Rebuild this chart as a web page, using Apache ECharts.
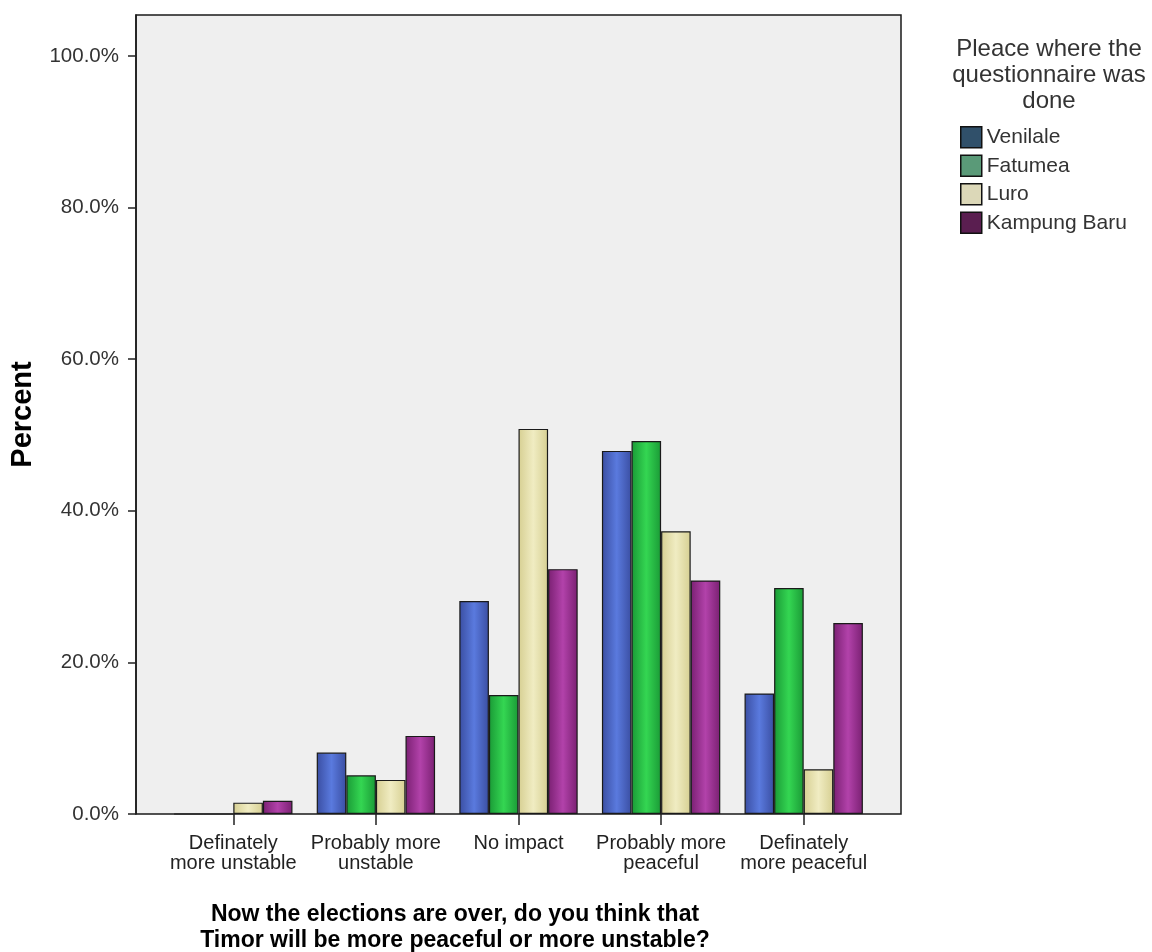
<!DOCTYPE html>
<html>
<head>
<meta charset="utf-8">
<script src="https://cdn.jsdelivr.net/npm/echarts@6/dist/echarts.min.js"></script>
<style>
  html, body { margin: 0; padding: 0; background: #ffffff; }
  #chart { width: 1152px; height: 952px; }
</style>
</head>
<body>
<div id="chart"></div>
<script>
// ---- Data ----
const categories = [
  'Definately\nmore unstable',
  'Probably more\nunstable',
  'No impact',
  'Probably more\npeaceful',
  'Definately\nmore peaceful'
];
const venilale    = [0.0, 8.1, 28.1, 47.9, 15.9];
const fatumea     = [0.0, 5.1, 15.7, 49.2, 29.8];
const luro        = [1.5, 4.5, 50.8, 37.3, 5.9];
const kampungBaru = [1.75, 10.3, 32.3, 30.8, 25.2];
const seriesNames = ['Venilale', 'Fatumea', 'Luro', 'Kampung Baru'];
const yTicks = [0, 20, 40, 60, 80, 100];
const xTitle = 'Now the elections are over, do you think that\nTimor will be more peaceful or more unstable?';
const legendTitle = 'Pleace where the\nquestionnaire was\ndone';

// ---- Styles ----
const barColors = [
  ['#3a4ea2', '#5a7ade', '#3a4ea2'],
  ['#1a9a36', '#34d652', '#1a9a36'],
  ['#d6cf92', '#f0ecc2', '#d6cf92'],
  ['#7a2072', '#b242aa', '#7a2072']
];
const legendColors = ['#30506a', '#5a9a78', '#dcd8b8', '#5a1e50'];
const FONT = '"Liberation Sans", Arial, sans-serif';

function grad(c) {
  return new echarts.graphic.LinearGradient(0, 0, 1, 0, [
    { offset: 0, color: c[0] },
    { offset: 0.5, color: c[1] },
    { offset: 1, color: c[2] }
  ]);
}

const allData = [venilale, fatumea, luro, kampungBaru];

const chart = echarts.init(document.getElementById('chart'), null, { renderer: 'canvas' });

const option = {
  backgroundColor: '#ffffff',
  animation: false,
  textStyle: { fontFamily: FONT },
  title: [
    {
      text: xTitle,
      left: 450, top: 897, textAlign: 'center',
      textStyle: { fontFamily: FONT, fontSize: 23, fontWeight: 'bold', color: '#000', lineHeight: 26 }
    },
    {
      text: legendTitle,
      left: 1044, top: 31, textAlign: 'center',
      textStyle: { fontFamily: FONT, fontSize: 24, fontWeight: 'normal', color: '#333', lineHeight: 26, align: 'center' }
    }
  ],
  legend: {
    orient: 'vertical',
    left: 955, top: 121,
    itemWidth: 21, itemHeight: 21, itemGap: 6,
    icon: 'rect',
    textStyle: { fontFamily: FONT, fontSize: 21, color: '#333' },
    data: seriesNames.map((n, i) => ({
      name: n,
      itemStyle: { color: legendColors[i], borderColor: '#111', borderWidth: 1.5 }
    }))
  },
  grid: [
    { left: 136, right: 251, top: 15, bottom: 138, show: true, backgroundColor: '#efefef', borderColor: '#1a1a1a', borderWidth: 1.5 },
    { left: 162, right: 277, top: 15, bottom: 138, show: false }
  ],
  xAxis: [
    { gridIndex: 0, type: 'category', data: categories, show: false },
    {
      gridIndex: 1, type: 'category', data: categories,
      axisLine: { show: false },
      axisTick: { show: true, alignWithLabel: true, length: 11, lineStyle: { color: '#222', width: 1.5 } },
      axisLabel: { interval: 0, fontFamily: FONT, fontSize: 20, color: '#222', lineHeight: 20, margin: 19 },
      splitLine: { show: false }
    }
  ],
  yAxis: [
    {
      gridIndex: 0, type: 'value', min: 0, max: 105.4,
      name: 'Percent', nameLocation: 'middle', nameGap: 99,
      nameTextStyle: { fontFamily: FONT, fontSize: 29, fontWeight: 'bold', color: '#000' },
      axisLine: { show: true, lineStyle: { color: '#1a1a1a', width: 1.5 } },
      axisTick: { show: true, length: 8, customValues: yTicks, lineStyle: { color: '#222', width: 1.5 } },
      axisLabel: {
        customValues: yTicks, fontFamily: FONT, fontSize: 20.5, color: '#333', margin: 17,
        formatter: v => v.toFixed(1) + '%'
      },
      splitLine: { show: false }
    },
    { gridIndex: 1, type: 'value', min: 0, max: 105.4, show: false, splitLine: { show: false } }
  ],
  series: allData.map((d, i) => ({
    name: seriesNames[i],
    type: 'bar',
    xAxisIndex: 1, yAxisIndex: 1,
    data: d,
    barGap: '0%',
    barCategoryGap: '17%',
    itemStyle: { color: grad(barColors[i]), borderColor: '#1a1a1a', borderWidth: 1.2 }
  }))
};

chart.setOption(option);
</script>
</body>
</html>
